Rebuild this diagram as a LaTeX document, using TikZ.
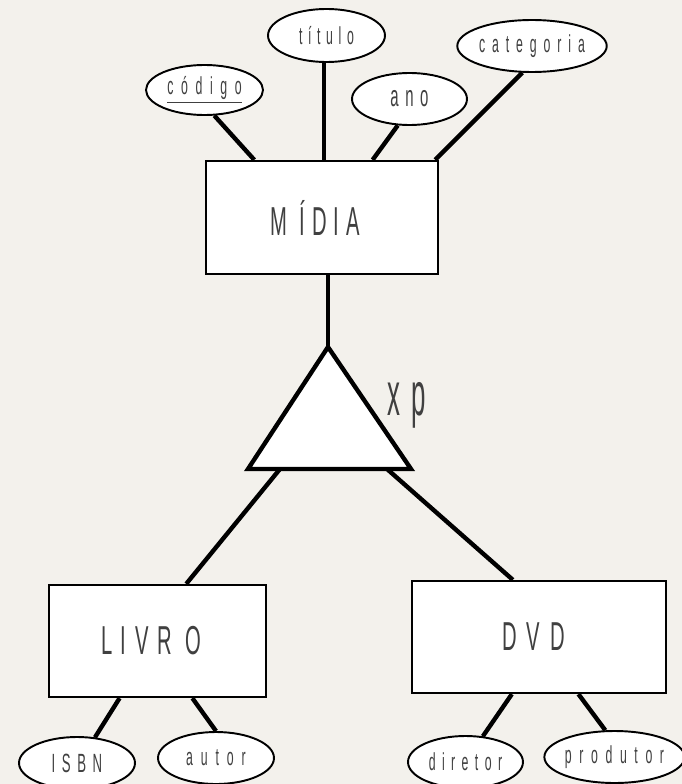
\documentclass[tikz,border=0pt]{standalone}
\usepackage{fontspec}
\usetikzlibrary{calc,shapes.geometric}
\newfontfamily\erfont[FakeStretch=0.5]{Liberation Sans}
\newfontfamily\xpfont[FakeStretch=0.42]{Liberation Sans}
\definecolor{bg}{HTML}{F3F1EC}
\definecolor{txt}{HTML}{404040}
\newcommand\tx[2]{\addfontfeature{LetterSpace=#1}#2}
\begin{document}
\begin{tikzpicture}[x=0.02cm,y=-0.02cm,
  ent/.style={draw=black,line width=1.3pt,fill=white,rectangle,inner sep=0pt,text=txt,
    font=\fontsize{23}{26}\selectfont\erfont},
  att/.style={draw=black,line width=1.1pt,fill=white,ellipse,inner sep=0pt,text=txt,
    font=\fontsize{14}{16}\selectfont\erfont},
  conn/.style={line width=2.5pt}]
\fill[bg] (0,0) rectangle (682,784);
\useasboundingbox (0,0) rectangle (682,784);
% entities
\node[ent,minimum width=4.64cm,minimum height=2.26cm] (mid) at (322,217.5) {\hspace*{-8pt}\tx{17}{M ÍDIA}};
\node[ent,minimum width=4.34cm,minimum height=2.24cm] (liv) at (157.5,641) {\hspace*{-7pt}\tx{21}{LIVR O}};
\node[ent,minimum width=5.08cm,minimum height=2.24cm] (dvd) at (539,637) {\hspace*{-6pt}\tx{25}{DVD}};
% attributes
\node[att,minimum width=2.34cm,minimum height=1.0cm] (cod) at (204.5,90) {\underline{\tx{31}{código}}};
\node[att,minimum width=2.34cm,minimum height=1.06cm] (tit) at (326.5,35.5) {\tx{23}{título}};
\node[att,minimum width=2.3cm,minimum height=1.04cm,font=\fontsize{17}{19}\selectfont\erfont] (ano) at (409.5,99) {\tx{22}{ano}};
\node[att,minimum width=2.56cm,minimum height=1.04cm] (cat) at (532,46) {\tx{28}{categoria}};
\node[att,minimum width=2.32cm,minimum height=1.04cm,font=\fontsize{15}{17}\selectfont\erfont] (isbn) at (77,763) {\tx{25}{ISBN}};
\node[att,minimum width=2.32cm,minimum height=1.04cm] (aut) at (216,758) {\tx{32}{autor}};
\node[att,minimum width=2.3cm,minimum height=1.04cm] (dir) at (465.5,762) {\tx{26}{diretor}};
\node[att,minimum width=2.7cm,minimum height=1.04cm] (prod) at (614.5,757) {\tx{31}{produtor}};
% attribute connectors
\draw[conn] (cod.-69) -- ($(mid.north west)!0.211!(mid.north east)$);
\coordinate (tt) at ($(mid.north west)!0.509!(mid.north east)$);
\draw[conn] (tt) -- (tt |- tit.south);
\draw[conn] (ano.-114) -- ($(mid.north west)!0.716!(mid.north east)$);
\draw[conn] (cat.-110) -- ($(mid.north west)!0.983!(mid.north east)$);
% specialization triangle
\coordinate (apex) at (328,347);
\coordinate (bl) at (248,469);
\coordinate (br) at (411,469);
\draw[conn] (mid.south -| apex) -- (apex);
\draw[conn] ($(bl)!0.196!(br)$) -- ($(liv.north west)!0.631!(liv.north east)$);
\draw[conn] ($(bl)!0.853!(br)$) -- ($(dvd.north west)!0.398!(dvd.north east)$);
\draw[line width=2.5pt,fill=white,line join=miter] (apex) -- (bl) -- (br) -- cycle;
\node[anchor=base west,inner sep=0pt,text=txt,font=\fontsize{35}{40}\selectfont\xpfont] (xp) at (387,415) {\tx{18}{xp}};
% lower connectors
\draw[conn] ($(liv.south west)!0.327!(liv.south east)$) -- (isbn.55);
\draw[conn] ($(liv.south west)!0.659!(liv.south east)$) -- (aut.90);
\draw[conn] ($(dvd.south west)!0.394!(dvd.south east)$) -- (dir.56);
\draw[conn] ($(dvd.south west)!0.654!(dvd.south east)$) -- (prod.109);
\end{tikzpicture}
\end{document}
